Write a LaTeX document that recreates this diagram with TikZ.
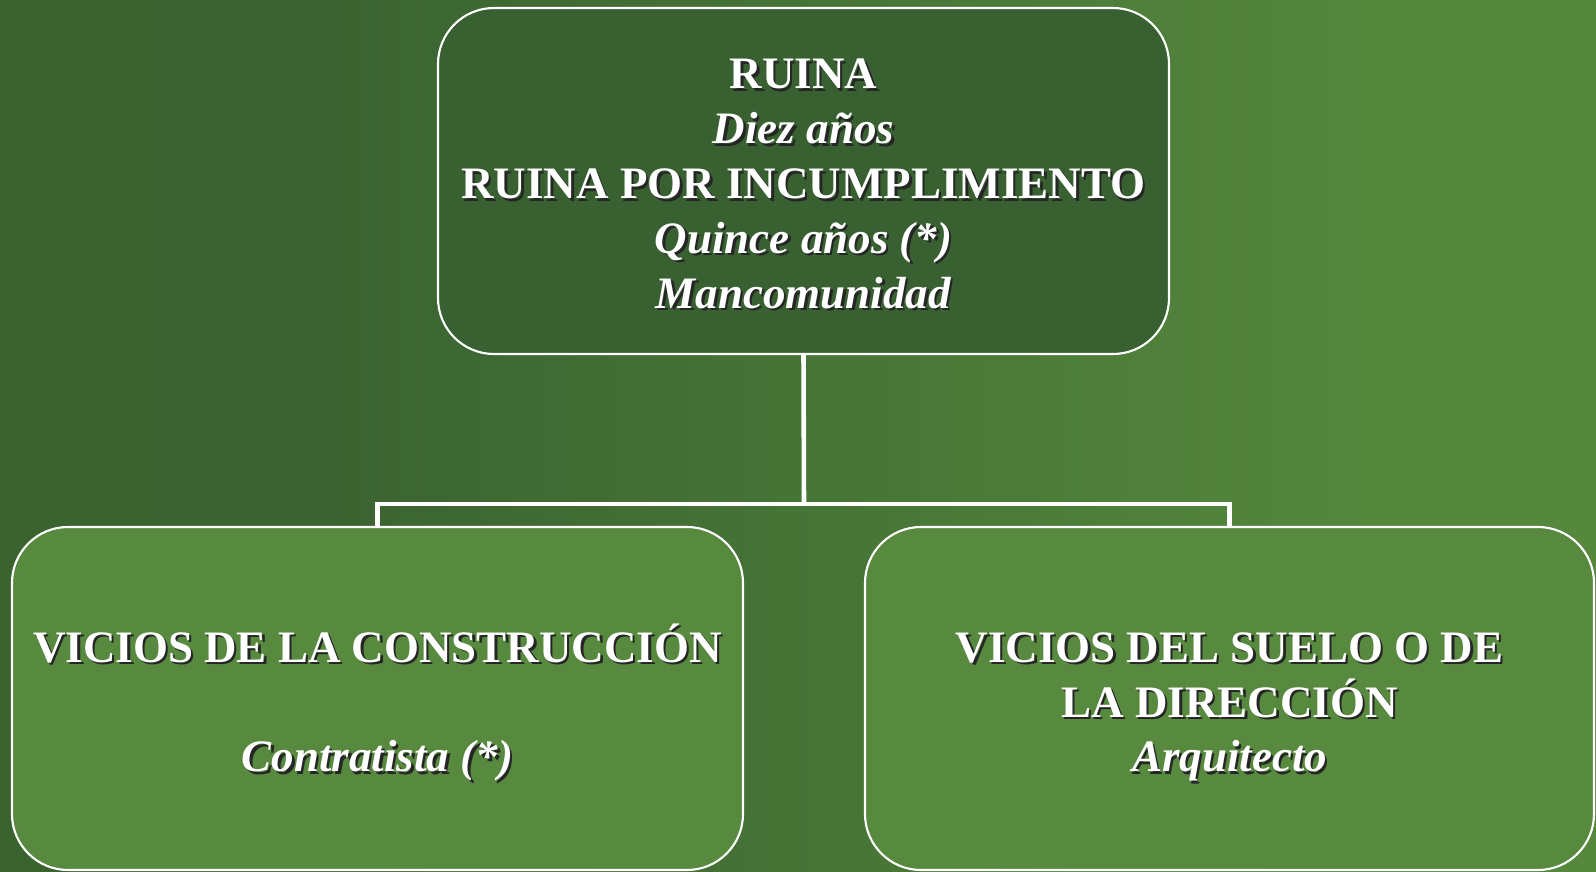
\documentclass[tikz,border=0pt]{standalone}
\usepackage{fontspec}
\setmainfont{Liberation Serif}
\usepackage{tikz}
\definecolor{bgleft}{HTML}{3A6330}
\definecolor{bgdark}{HTML}{3A6331}
\definecolor{bgright}{HTML}{55873D}
\definecolor{topfill}{HTML}{386031}
\definecolor{subfill}{HTML}{57893E}
\pgfdeclarehorizontalshading{bggreen}{100bp}{color(0bp)=(bgleft); color(25bp)=(bgleft); color(35bp)=(bgdark); color(68bp)=(bgright); color(100bp)=(bgright)}
% white text with a dark drop shadow
\newcommand{\shd}[1]{\makebox[0pt][l]{\hspace{0.7pt}\raisebox{-0.7pt}{\textcolor{black!85}{#1}}}#1}
% fixed top and bottom of the text block
\newcommand{\topstrut}[1][12pt]{\rule{0pt}{#1}}
\newcommand{\botstrut}{\rule[-2pt]{0pt}{0pt}}

\begin{document}
\begin{tikzpicture}[
        card/.style={
            rectangle,
            draw=white,
            line width=0.6pt,
            rounded corners=0.56cm,
            align=center,
            inner sep=0pt,
            text=white,
            font=\fontsize{12.8pt}{15.6pt}\selectfont\bfseries
        },
        conn/.style={draw=white, line width=1.3pt}
    ]
    \shade[shading=bggreen] (0,0) rectangle (15.96,-8.72);
    \useasboundingbox (0,0) rectangle (15.96,-8.72);

    \node[card, fill=topfill, minimum width=7.31cm, minimum height=3.46cm] (ruina) at (8.035,-1.81)
        {\topstrut\shd{RUINA}\\\shd{\textit{Diez años}}\\\shd{RUINA POR INCUMPLIMIENTO}\\\shd{\textit{Quince años (*)}}\\\shd{\textit{Mancomunidad}}\botstrut};
    \node[card, fill=subfill, minimum width=7.31cm, minimum height=3.43cm] (construccion) at (3.775,-6.985)
        {\topstrut[14pt]\shd{VICIOS DE LA CONSTRUCCIÓN}\\[15.6pt]\shd{\textit{Contratista (*)}}\botstrut};
    \node[card, fill=subfill, minimum width=7.29cm, minimum height=3.43cm] (suelo) at (12.295,-6.985)
        {\topstrut[14pt]\shd{VICIOS DEL SUELO O DE}\\\shd{LA DIRECCIÓN}\\\shd{\textit{Arquitecto}}\botstrut};

    \coordinate (bus) at (8.04,-5.04);
    \draw[conn] (ruina.south) -- (bus);
    \draw[conn] (construccion.north) |- (bus) -| (suelo.north);
\end{tikzpicture}
\end{document}
